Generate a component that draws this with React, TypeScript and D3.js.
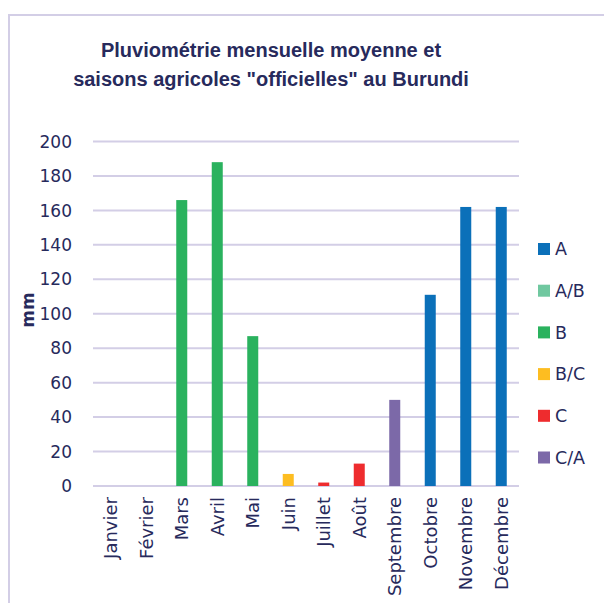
import React from "react";
import * as d3 from "d3";

const months = ["Janvier", "Février", "Mars", "Avril", "Mai", "Juin", "Juillet", "Août", "Septembre", "Octobre", "Novembre", "Décembre"];
const rainfall = [0, 0, 166, 188, 87, 7, 2, 13, 50, 111, 162, 162];
const seasonOfMonth = ["A/B", "A/B", "B", "B", "B", "B/C", "C", "C", "C/A", "A", "A", "A"];
const seasons = ["A", "A/B", "B", "B/C", "C", "C/A"];
const seasonColors = ["#0B70B9", "#70C8A0", "#2AB25E", "#FDBD21", "#EE2C2E", "#7C69A8"];
const yTicks = [0, 20, 40, 60, 80, 100, 120, 140, 160, 180, 200];
const titleLines = ["Pluviométrie mensuelle moyenne et", "saisons agricoles \"officielles\" au Burundi"];

const W = 604, H = 603;
const TEXT = "#272A5C";
const GRID = "#D3CEE6";
const FONT = "'DejaVu Sans', sans-serif";

export default function App() {
  const x = d3.scaleBand<string>().domain(months).range([93, 519]).paddingInner(0.69).paddingOuter(0.345);
  const y = d3.scaleLinear().domain([0, 200]).range([486, 141.5]);
  const color = d3.scaleOrdinal<string, string>().domain(seasons).range(seasonColors);
  const legendY = d3.scalePoint<string>().domain(seasons).range([249, 457.5]);

  return (
    <svg width={W} height={H} style={{ position: "absolute", left: 0, top: 0, background: "#fff" }}>
      <rect x={9} y={15} width={700} height={700} fill="#fff" stroke={GRID} strokeWidth={2} />
      {titleLines.map((t, i) => (
        <text key={i} x={271} y={57 + i * 29} textAnchor="middle" fontFamily="'Liberation Sans', Arial, sans-serif" fontWeight="bold" fontSize={20} fill={TEXT}>{t}</text>
      ))}
      {yTicks.map((v) => (
        <g key={v}>
          <line x1={93} x2={519} y1={y(v)} y2={y(v)} stroke={GRID} strokeWidth={2} />
          <text x={72} y={y(v)} dy="0.36em" textAnchor="end" fontFamily={FONT} fontSize={17} fill={TEXT}>{v}</text>
        </g>
      ))}
      <text transform={`translate(34,310) rotate(-90)`} textAnchor="middle" fontFamily={FONT} fontWeight="bold" fontSize={17} fill={TEXT}>mm</text>
      {months.map((m, i) => (
        <rect key={m} x={x(m)} y={y(rainfall[i])} width={x.bandwidth()} height={y(0) - y(rainfall[i])} fill={color(seasonOfMonth[i])} />
      ))}
      {months.map((m) => (
        <text key={m} transform={`translate(${(x(m) as number) + x.bandwidth() / 2},497) rotate(-90)`} dy="0.36em" textAnchor="end" fontFamily={FONT} fontSize={18} fill={TEXT}>{m}</text>
      ))}
      {seasons.map((s) => (
        <g key={s}>
          <rect x={538} y={(legendY(s) as number) - 6} width={12} height={12} fill={color(s)} />
          <text x={555} y={legendY(s)} dy="0.36em" fontFamily={FONT} fontSize={17.5} fill={TEXT}>{s}</text>
        </g>
      ))}
    </svg>
  );
}
